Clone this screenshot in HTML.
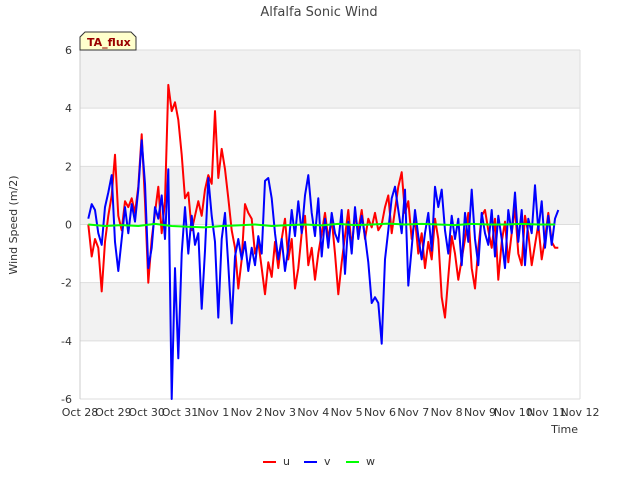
<!DOCTYPE html>
<html><head><meta charset="utf-8"><style>
body{margin:0;background:#fff;font-family:"Liberation Sans","DejaVu Sans",sans-serif}
svg text{font-family:"DejaVu Sans","Liberation Sans",sans-serif}
</style></head><body>
<svg id="c" width="640" height="480" xmlns="http://www.w3.org/2000/svg">
<rect width="640" height="480" fill="#fff"/>
<text x="319" y="16" text-anchor="middle" font-size="13" fill="#444">Alfalfa Sonic Wind</text>
<g id="bands"></g><g id="axes"></g><g id="series"></g>
<g>
<path d="M80,50 L80,37 L85,32 L131,32 L136,37 L136,50 Z" fill="#ffffcc" stroke="#333" stroke-width="1"/>
<text x="87" y="46" font-size="11" font-weight="bold" fill="#990000">TA_flux</text></g>
<text transform="translate(17,225) rotate(-90)" text-anchor="middle" font-size="11" fill="#333">Wind Speed (m/2)</text>
<text x="578" y="433" text-anchor="end" font-size="11" fill="#333">Time</text>
<g>
<g><line x1="263" y1="462" x2="276" y2="462" stroke="#f00" stroke-width="2"/><text x="283" y="465" font-size="11" fill="#333">u</text></g>
<g><line x1="304" y1="462" x2="317" y2="462" stroke="#00f" stroke-width="2"/><text x="324" y="465" font-size="11" fill="#333">v</text></g>
<g><line x1="346" y1="462" x2="359" y2="462" stroke="#0f0" stroke-width="2"/><text x="366" y="465" font-size="11" fill="#333">w</text></g>
</g>
</svg>
<script>
const xTickLabels=["Oct 28","Oct 29","Oct 30","Oct 31","Nov 1","Nov 2","Nov 3","Nov 4","Nov 5","Nov 6","Nov 7","Nov 8","Nov 9","Nov 10","Nov 11","Nov 12"];
const yTicks=[-6,-4,-2,0,2,4,6];
const tStart=0.25, tStep=0.1;
const uVals=[0,-1.1,-0.5,-0.8,-2.3,-0.6,0.3,1.0,2.4,0.3,
-0.2,0.8,0.6,0.9,0.4,1.3,3.1,0.8,-2.0,-0.5,
0.4,1.3,-0.3,0.8,4.8,3.9,4.2,3.6,2.4,0.9,
1.1,-0.2,0.3,0.8,0.3,1.2,1.7,1.4,3.9,1.6,
2.6,1.9,0.9,-0.2,-0.8,-2.2,-1.2,0.7,0.4,0.2,
-1.0,-0.6,-1.5,-2.4,-1.3,-1.8,-0.6,-1.5,-0.5,0.2,
-1.2,-0.5,-2.2,-1.5,-0.3,0.3,-1.4,-0.8,-1.9,-1.0,
-0.3,0.4,-0.5,0.2,-1.0,-2.4,-1.3,-0.4,0.5,-0.8,
0.3,-0.2,0.5,-0.5,0.2,-0.1,0.4,-0.2,0.0,0.6,
1.0,-0.3,0.5,1.3,1.8,0.4,0.8,-0.5,0.2,-1.0,
-0.3,-1.5,-0.6,-1.2,0.2,-0.5,-2.5,-3.2,-1.8,-0.4,
-1.0,-1.9,-1.2,-0.5,0.4,-1.5,-2.2,-0.8,0.3,0.5,
-0.2,-0.8,0.2,-1.9,-0.6,0.1,-1.3,-0.3,0.6,-1.0,
-1.4,0.3,-0.3,-1.4,-0.7,0.0,-1.2,-0.5,0.4,-0.6,
-0.8,-0.8];
const vVals=[0.2,0.7,0.5,-0.3,-0.7,0.6,1.1,1.7,-0.6,-1.6,
-0.5,0.6,-0.3,0.7,0.1,1.2,2.9,1.4,-1.5,-0.8,
0.6,0.2,1.0,-0.5,1.9,-6.0,-1.5,-4.6,-1.0,0.6,
-1.0,0.3,-0.7,-0.3,-2.9,-0.9,1.6,0.3,-0.6,-3.2,
-0.5,0.4,-1.4,-3.4,-1.1,-0.5,-1.2,-0.6,-1.6,-0.8,
-1.4,-0.4,-1.0,1.5,1.6,0.9,-0.3,-1.2,-0.5,-1.6,
-0.8,0.5,-0.4,0.8,-0.3,1.0,1.7,0.4,-0.4,0.9,
-1.1,0.2,-0.8,0.4,-0.3,-0.6,0.5,-1.7,0.1,-1.0,
0.6,-0.5,0.3,-0.4,-1.3,-2.7,-2.5,-2.7,-4.1,-1.2,
-0.2,0.9,1.3,0.5,-0.3,1.2,-2.1,-0.8,0.5,-0.4,
-1.2,-0.3,0.4,-0.9,1.3,0.6,1.2,-0.2,-1.0,0.3,
-0.5,0.2,-1.4,0.4,-0.6,1.2,-0.5,-1.4,0.4,-0.3,
-0.7,0.5,-1.1,0.3,-0.5,-1.5,0.5,-0.3,1.1,-0.6,
0.5,-1.4,0.2,-0.3,1.35,-0.2,0.8,-0.8,0.3,-0.7,
0.2,0.5];
const wStep=0.5;
const wVals=[0.0,-0.05,-0.02,-0.05,0.02,-0.05,-0.08,-0.1,-0.05,-0.03,0.0,-0.05,-0.02,0.0,-0.03,0.02,-0.02,0.0,0.03,0.0,0.02,0.0,-0.02,0.02,0.0,0.0,0.02,0.0,0.0];
const NS="http://www.w3.org/2000/svg";
const X0=80,X1=580,Y0=50,Y1=399;
function xs(t){return X0+(t/15)*(X1-X0);}
function ys(v){return Y0+(6-v)/12*(Y1-Y0);}
function mk(tag,attrs,parent){const e=document.createElementNS(NS,tag);for(const k in attrs)e.setAttribute(k,attrs[k]);parent.appendChild(e);return e;}
const bands=document.getElementById('bands'),axes=document.getElementById('axes'),ser=document.getElementById('series');
for(let i=0;i<yTicks.length-1;i++){
  const lo=yTicks[i],hi=yTicks[i+1];
  const r=mk('rect',{x:X0,y:ys(hi),width:X1-X0,height:ys(lo)-ys(hi),fill:(i%2===0)?'#fff':'#f2f2f2'},bands);
  
  
}
yTicks.forEach(v=>{
  const l=mk('line',{x1:X0,x2:X1,y1:ys(v),y2:ys(v),stroke:'#ddd','stroke-width':1},axes);
  
  
  const t=mk('text',{x:X0-8,y:ys(v)+4,'text-anchor':'end','font-size':11,fill:'#333'},axes);
  t.textContent=v;
  
  
});
mk('line',{x1:X0,x2:X0,y1:Y0,y2:Y1,stroke:'#ccc'},axes);
mk('line',{x1:X1,x2:X1,y1:Y0,y2:Y1,stroke:'#ddd'},axes);
xTickLabels.forEach((s,i)=>{
  const t=mk('text',{x:xs(i),y:Y1+17,'text-anchor':'middle','font-size':11,fill:'#333'},axes);
  t.textContent=s;
  
  
});
function line(vals,step,color,name){
  const d=vals.map((v,i)=>(i?'L':'M')+xs(tStart+i*step).toFixed(1)+','+ys(v).toFixed(1)).join(' ');
  const p=mk('path',{d:d,fill:'none',stroke:color,'stroke-width':2,'stroke-linejoin':'round'},ser);
  
  
}
line(uVals,tStep,'#f00','series-u');
line(vVals,tStep,'#00f','series-v');
line(wVals,wStep,'#0f0','series-w');
</script>
</body></html>
